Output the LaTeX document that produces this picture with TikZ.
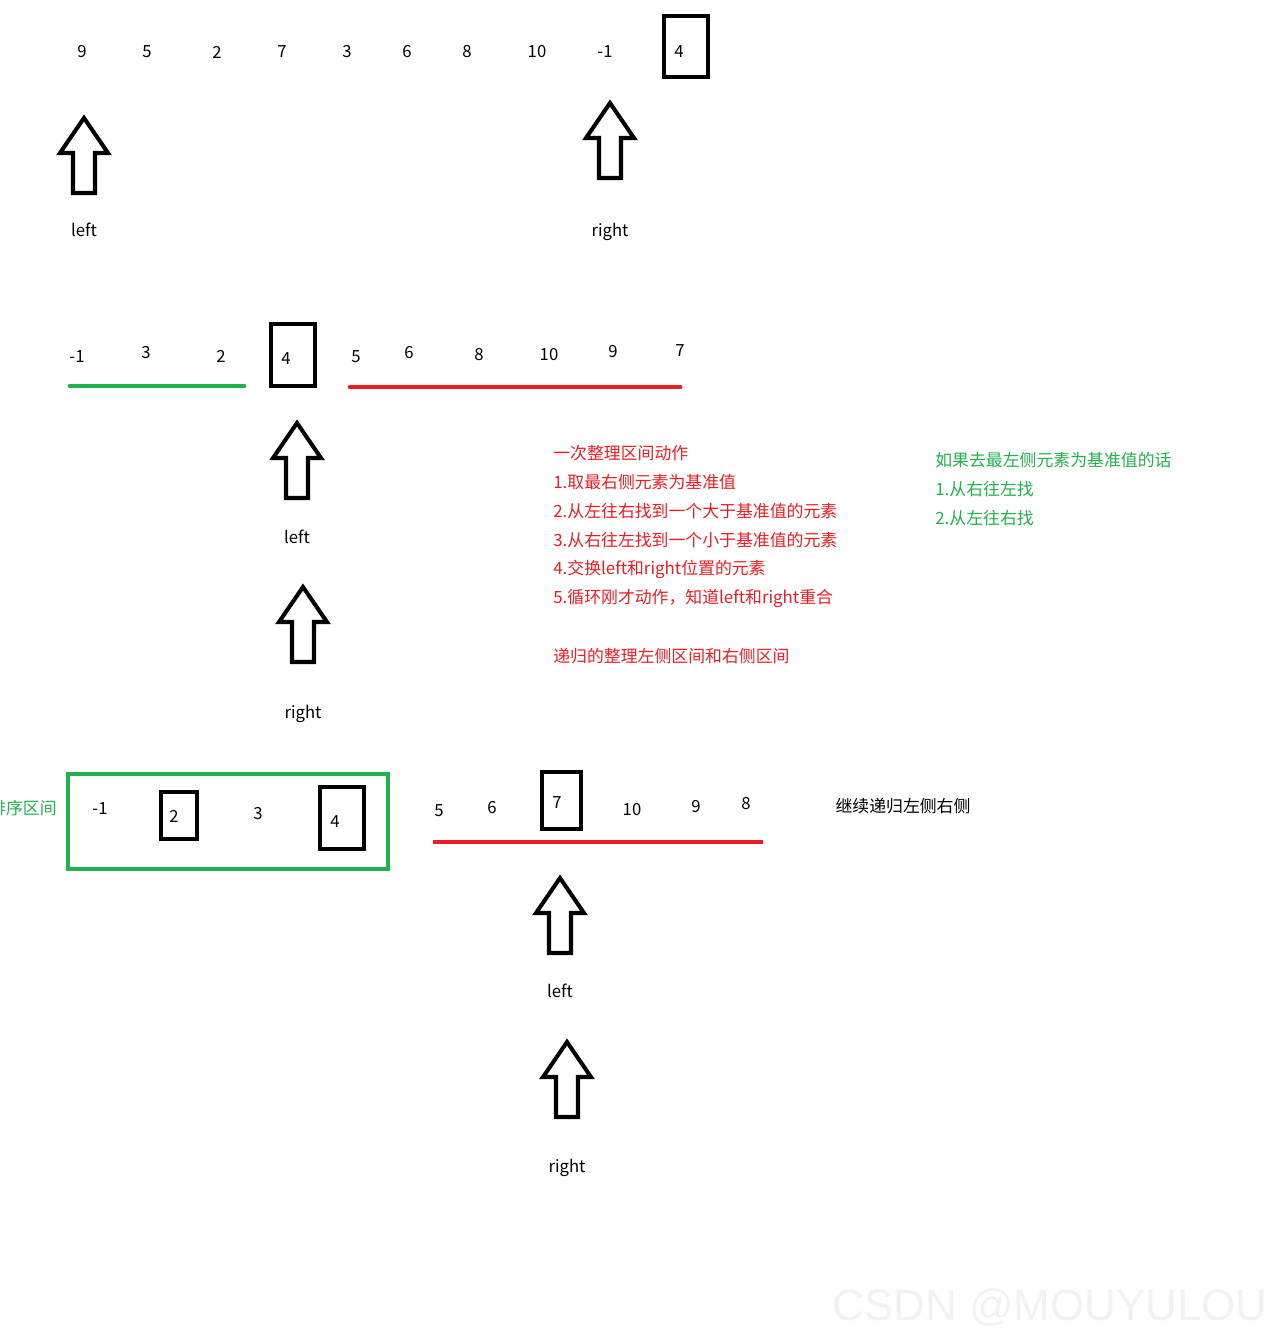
\documentclass[tikz,border=0pt]{standalone}
\usepackage{fontspec}
\setmainfont{Noto Sans CJK SC}
\newfontfamily\wmfont{Liberation Sans}
\usetikzlibrary{positioning}
\definecolor{qsred}{RGB}{237,28,36}
\definecolor{qsgreen}{RGB}{34,177,76}
\tikzset{
  num/.style={inner sep=0pt,font=\fontsize{9.5}{11}\selectfont},
  lbl/.style={inner sep=0pt,font=\fontsize{9.5}{11}\selectfont},
  note/.style={inner sep=0pt,anchor=west,font=\fontsize{9.6}{11}\selectfont},
  pivot/.style 2 args={draw,line width=2.3pt,inner sep=0pt,minimum width=#1*0.02cm,minimum height=#2*0.02cm},
  fatarrow/.style={line width=2.3pt,line join=miter},
  seg/.style={line width=2.8pt,line cap=round}
}

\begin{document}
\begin{tikzpicture}[x=0.02cm,y=-0.02cm]
\useasboundingbox (0,0) rectangle (1281,1342);
\clip (0,0) rectangle (1281,1342);
% watermark
\node[inner sep=0pt,anchor=east,text=black!5,font=\wmfont\fontsize{25}{30}\selectfont] (mark) at (1268,1308) {CSDN @MOUYULOU};
% row 1: start
\foreach \x/\v [count=\i] in {82/9,147/5,217/2,282/7,347/3,407/6,467/8,537/10,605/-1,679/4}
  \node[num] (a\i) at (\x,52) {\v};
\node[pivot={44}{61}] (pa) at (686,46.5) {};
% row 2: after one pass
\foreach \x/\y/\v [count=\i] in {77/357/-1,146/353/3,221/356/2,286/359/4,356/357/5,409/353/6,479/355/8,549/355/10,613/352/9,680/351/7}
  \node[num] (b\i) at (\x,\y) {\v};
\node[pivot={44}{62}] (pb) at (293,355) {};
\draw[seg,qsgreen](70,386)--(244,386);
\draw[seg,qsred](350,387)--(680,387);
% row 3: recursion
\foreach \x/\y/\v [count=\i] in {100/809/-1,174/816/2,258/814/3,335/822/4,439/811/5,492/808/6,557/803/7,632/810/10,696/807/9,746/804/8}
  \node[num] (c\i) at (\x,\y) {\v};
\node[pivot={36}{47}] (pc1) at (179,815.5) {};
\node[pivot={44}{62}] (pc2) at (342,818) {};
\node[pivot={39}{57}] (pc3) at (561.5,800.5) {};
\node[draw=qsgreen,line width=2.3pt,inner sep=0pt,minimum width=6.4cm,minimum height=1.9cm] (done) at (228,821.5) {};
\node[note,anchor=east,text=qsgreen] (donetxt) at (57,808) {排序区间};
\draw[seg,qsred,line cap=butt](433,842)--(763,842);
\node[note,anchor=center] (next) at (903,806) {继续递归左侧右侧};
% pointers
\foreach \x/\y/\ly/\t [count=\i] in {84/118/230/left,610/103/232/right,297/423/537/left,303/587/714/right,560/878/991/left,567/1042/1168/right}{
  \draw[fatarrow](\x,\y)--++(24,35)--++(-13,0)--++(0,40)--++(-22,0)--++(0,-40)--++(-13,0)--cycle;
  \node[lbl] (ptr\i) at (\x,\ly) {\t};
}
% notes
\foreach \y/\t [count=\i] in {453/一次整理区间动作,482/1.取最右侧元素为基准值,511/2.从左往右找到一个大于基准值的元素,540/3.从右往左找到一个小于基准值的元素,569/4.交换left和right位置的元素,598/5.循环刚才动作，知道left和right重合,656/递归的整理左侧区间和右侧区间}
  \node[note,text=qsred] (r\i) at (553,\y) {\t};
\foreach \y/\t [count=\i] in {460/如果去最左侧元素为基准值的话,489/1.从右往左找,518/2.从左往右找}
  \node[note,text=qsgreen] (g\i) at (935,\y) {\t};
\end{tikzpicture}
\end{document}
